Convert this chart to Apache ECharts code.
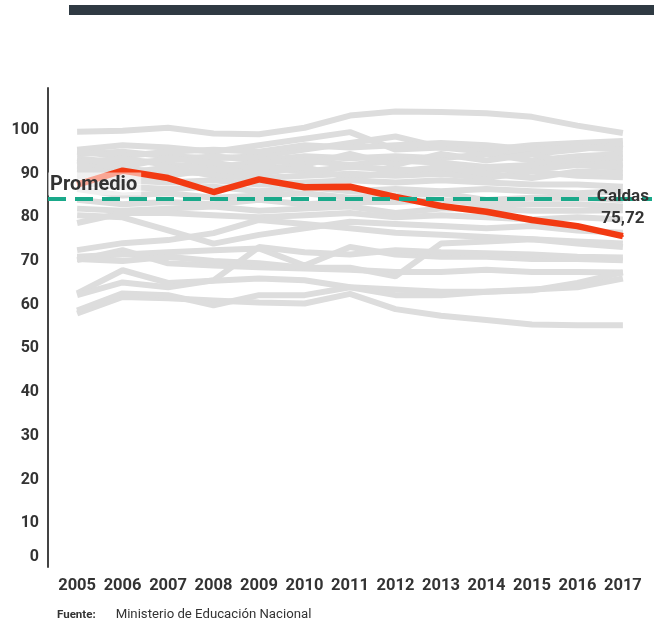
<!DOCTYPE html>
<html>
<head>
<meta charset="utf-8">
<script src="https://cdn.jsdelivr.net/npm/echarts@6/dist/echarts.min.js"></script>
<style>
html,body{margin:0;padding:0;background:#fff;}
#c{width:654px;height:625px;}
</style>
</head>
<body>
<div id="c"></div>
<script>
const years = [2005,2006,2007,2008,2009,2010,2011,2012,2013,2014,2015,2016,2017];
const yTicks = [0,10,20,30,40,50,60,70,80,90,100];
const caldasName = 'Caldas';
const caldas = [87.5,90.7,89.0,85.8,88.7,86.9,87.0,84.7,82.6,81.3,79.4,78.0,75.72];
const promedio = 84.3;
const otros = [
  [99.6,99.8,100.5,99.2,99.0,100.5,103.3,104.2,104.1,103.8,103.0,101.0,99.3],
  [95.5,96.5,96.0,95.0,96.5,98.0,99.5,95.5,96.0,95.5,96.5,97.0,97.5],
  [94.5,95.0,94.0,93.5,94.0,95.5,97.0,98.5,96.0,95.0,94.5,95.5,96.8],
  [95.0,94.0,95.0,95.5,95.0,96.5,96.0,96.5,97.0,96.5,95.5,96.0,95.5],
  [93.5,92.5,93.0,94.0,93.0,94.0,93.5,94.0,93.5,94.5,93.0,94.0,94.5],
  [92.5,93.5,92.0,91.5,92.5,93.0,92.0,93.0,92.5,91.5,92.0,93.0,93.6],
  [93.0,91.5,93.5,92.5,91.0,92.0,94.5,92.0,94.5,93.0,94.5,92.0,92.5],
  [91.8,91.0,90.5,90.0,91.5,90.5,91.5,91.0,90.5,91.0,91.0,92.0,91.3],
  [91.0,90.0,91.5,89.5,89.0,89.5,90.0,89.5,90.0,89.0,90.5,89.5,89.2],
  [90.0,89.0,89.5,91.0,90.0,91.5,89.0,90.5,91.5,90.0,89.0,90.5,90.2],
  [89.5,88.5,88.0,88.5,87.5,88.0,88.5,88.0,88.5,88.0,87.5,87.5,87.0],
  [88.0,87.0,86.5,87.0,86.0,87.0,86.0,86.5,86.0,86.5,86.0,85.5,86.0],
  [86.5,85.0,85.5,84.5,85.0,85.5,84.5,85.0,85.5,84.0,84.5,84.5,84.0],
  [84.0,83.0,83.5,83.0,84.0,83.0,83.5,83.5,84.0,83.0,83.0,83.0,82.5],
  [82.0,81.5,82.0,82.5,81.5,82.0,82.5,81.0,82.0,82.0,81.5,81.5,81.6],
  [78.7,81.0,81.0,80.5,80.0,80.5,81.0,80.0,80.5,80.0,79.5,80.0,79.5],
  [80.5,80.0,77.0,74.0,76.0,77.5,79.0,78.5,78.0,77.5,78.0,77.0,76.5],
  [72.5,74.1,74.8,76.4,79.4,78.5,77.5,76.5,76.0,75.5,75.0,74.5,74.0],
  [70.2,72.5,69.5,69.0,68.6,68.3,68.0,67.5,67.5,68.0,67.5,67.5,67.4],
  [71.0,71.5,72.0,72.5,72.9,69.0,73.2,71.5,71.0,71.0,70.5,70.5,70.2],
  [70.5,70.0,71.0,70.0,69.5,68.5,68.5,66.5,74.0,74.5,75.0,74.0,73.2],
  [62.6,67.9,65.0,65.5,66.0,65.6,64.0,63.5,63.0,63.0,63.3,65.0,67.4],
  [62.2,65.1,64.0,65.6,73.2,72.0,71.5,72.5,72.0,71.8,71.5,71.0,70.8],
  [58.0,61.8,61.5,61.0,60.5,60.3,62.5,59.0,57.5,56.5,55.5,55.3,55.3],
  [58.7,62.6,62.2,59.9,62.2,62.2,64.0,62.2,62.2,63.0,63.5,64.0,66.0]
];

const chart = echarts.init(document.getElementById('c'), null, {renderer:'canvas'});
const toPts = arr => arr.map((v,i) => [years[i], v]);
const lastIdx = caldas.length - 1;

const series = otros.map(arr => ({
  type:'line', data: toPts(arr), symbol:'none', silent:true,
  lineStyle:{color:'#dddddd', width:6}, z:2
}));
series.push({
  type:'line', name: caldasName, data: toPts(caldas), symbol:'none', z:10,
  lineStyle:{color:'#f23a12', width:6.5},
  markLine:{
    silent:true, symbol:'none', z:30,
    data:[{yAxis: promedio}],
    lineStyle:{color:'#1aa98a', width:4, type:[18,9]},
    label:{
      show:true, position:'insideStartTop', formatter:'Promedio', distance:[0,3],
      fontFamily:'Roboto', fontWeight:'bold', fontSize:20, color:'#333',
      backgroundColor:'rgba(255,255,255,0.55)', padding:[2,4,1,2]
    }
  }
});
series.push({
  type:'scatter', silent:true, z:40,
  data:[[years[lastIdx], caldas[lastIdx]]],
  symbolSize:2, itemStyle:{color:'#f23a12', opacity:1},
  label:{
    show:true, position:'top', distance:5,
    formatter: () => caldasName + '\n' + String(caldas[lastIdx]).replace('.', ','),
    fontFamily:'Roboto', fontWeight:'bold', fontSize:17, color:'#333', opacity:1, lineHeight:22, align:'center'
  }
});

chart.setOption({
  animation:false,
  backgroundColor:'#fff',
  grid:{left:48, right:2, top:88, bottom:58},
  xAxis:{
    type:'value', min:2004.36, max:2017.64,
    axisLine:{show:false}, axisTick:{show:false}, splitLine:{show:false},
    axisLabel:{
      customValues: years, formatter: v => String(v), margin:10,
      fontFamily:'Roboto', fontWeight:'bold', fontSize:16.5, color:'#333'
    }
  },
  yAxis:{
    type:'value', min:0, max:109.6, interval:10,
    axisLine:{show:true, lineStyle:{color:'#444', width:2}},
    axisTick:{show:false}, splitLine:{show:false},
    axisLabel:{
      customValues: yTicks,
      formatter: v => v === 0 ? '{z|0}' : String(v), margin:9,
      fontFamily:'Roboto', fontWeight:'bold', fontSize:16, color:'#333',
      rich:{z:{fontFamily:'Roboto', fontWeight:'bold', fontSize:16, color:'#333', padding:[0,0,20,0]}}
    }
  },
  title:{
    left:57, top:606, padding:0,
    text:'{b|Fuente:}    {n|Ministerio de Educación Nacional}',
    textStyle:{
      rich:{
        b:{fontFamily:'Roboto', fontWeight:'bold', fontSize:11.5, color:'#333'},
        n:{fontFamily:'Roboto', fontWeight:'normal', fontSize:13.2, color:'#333'}
      }
    }
  },
  graphic:[{type:'rect', shape:{x:69, y:5, width:585, height:10}, style:{fill:'#2f3a43'}, silent:true}],
  series: series
});
</script>
</body>
</html>
